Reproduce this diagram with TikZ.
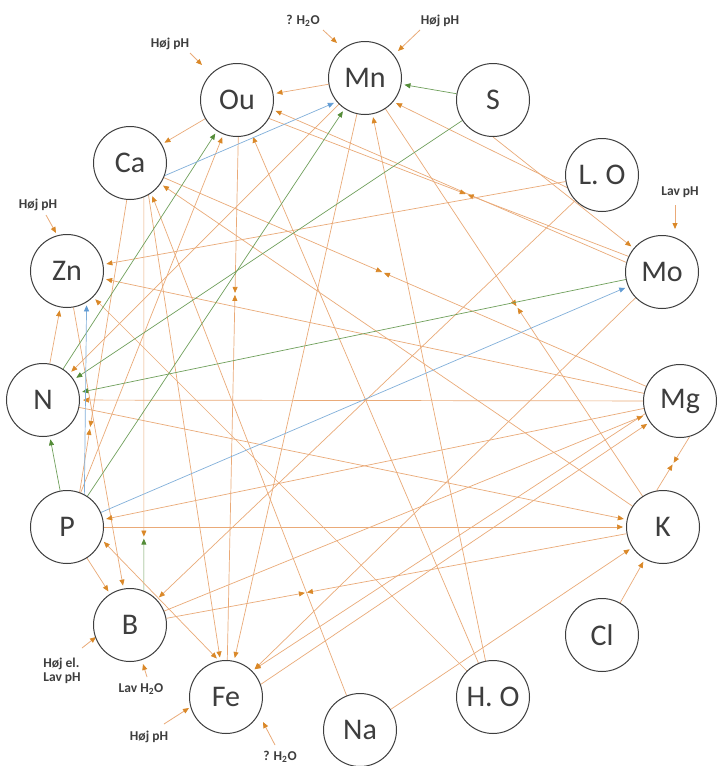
\documentclass[tikz,border=0pt]{standalone}
\usepackage{fontspec}
\setmainfont{Carlito}
\usetikzlibrary{arrows.meta,calc,backgrounds}
\definecolor{orL}{RGB}{234,170,120}
\definecolor{orD}{RGB}{218,136,40}
\definecolor{grL}{RGB}{112,160,92}
\definecolor{grD}{RGB}{84,140,56}
\definecolor{blL}{RGB}{128,175,218}
\definecolor{blD}{RGB}{96,155,212}
\definecolor{ink}{RGB}{62,62,62}
\begin{document}
\begin{tikzpicture}[x=1pt,y=-1pt,
  el/.style={circle,draw=ink,line width=1pt,fill=white,minimum size=73pt,inner sep=0pt,text=ink,font=\fontsize{30}{32}\selectfont},
  lab/.style={font=\bfseries\fontsize{13.5}{15}\selectfont,text=ink,inner sep=1pt},
  oe/.style={draw=orL,line width=0.7pt,-{Triangle[length=6pt,width=5pt,color=orD]},shorten >=3pt},
  ge/.style={draw=grL,line width=0.7pt,-{Triangle[length=6pt,width=5pt,color=grD]},shorten >=3pt},
  be/.style={draw=blL,line width=0.7pt,-{Triangle[length=6pt,width=5pt,color=blD]},shorten >=3pt},
  om/.style={draw=orL,line width=0.7pt,-{Triangle[length=6pt,width=5pt,color=orD]},shorten >=1pt},
  gm/.style={draw=grL,line width=0.7pt,-{Triangle[length=6pt,width=5pt,color=grD]},shorten >=1pt},
  ob/.style={draw=orL,line width=0.7pt,{Triangle[length=6pt,width=5pt,color=orD]}-{Triangle[length=6pt,width=5pt,color=orD]},shorten >=3pt,shorten <=3pt},
  la/.style={draw=orL,line width=0.8pt,-{Triangle[length=6pt,width=5pt,color=orD]}}
]
\useasboundingbox (0,0) rectangle (717,766);

% elements
\node[el] (Mn) at (365,78) {Mn};
\node[el] (Ou) at (237,100) {Ou};
\node[el] (S)  at (493,100) {S};
\node[el] (Ca) at (130,163) {Ca};
\node[el] (LO) at (602,175) {L. O};
\node[el] (Zn) at (67,271) {Zn};
\node[el] (Mo) at (662,272) {Mo};
\node[el] (N)  at (43,400) {N};
\node[el] (Mg) at (680,401) {Mg};
\node[el] (P)  at (67,527) {P};
\node[el] (K)  at (663,527) {K};
\node[el] (B)  at (130,625) {B};
\node[el] (Cl) at (602,635) {Cl};
\node[el] (Fe) at (226,697) {Fe};
\node[el] (HO) at (493,697) {H. O};
\node[el] (Na) at (360,730) {Na};

% condition labels
\node[lab] (lq1) at (303,21) {? H\textsubscript{2}O};
\node[lab] (lh1) at (440,21) {Høj pH};
\node[lab] (lh2) at (170,44) {Høj pH};
\node[lab] (lh3) at (38,205) {Høj pH};
\node[lab] (llv) at (680,192) {Lav pH};
\node[lab,align=left] (lhe) at (62,671) {Høj el.\\[-1pt]Lav pH};
\node[lab] (llh) at (141,689) {Lav H\textsubscript{2}O};
\node[lab] (lh4) at (149,737) {Høj pH};
\node[lab] (lq2) at (280,757) {? H\textsubscript{2}O};

\coordinate (a1s) at (323,30); \coordinate (a1e) at (337,43);
\coordinate (a2s) at (420,30); \coordinate (a2e) at (398,51);
\coordinate (a3s) at (190,53); \coordinate (a3e) at (202,65);
\coordinate (a4s) at (46,215); \coordinate (a4e) at (56,233);
\coordinate (a5s) at (675,205); \coordinate (a5e) at (675,229);
\coordinate (a6s) at (82,648); \coordinate (a6e) at (96,637);
\coordinate (a7s) at (147,677); \coordinate (a7e) at (143,664);
\coordinate (a8s) at (164,724); \coordinate (a8e) at (189,708);
\coordinate (a9s) at (275,745); \coordinate (a9e) at (263,722);

\begin{pgfonlayer}{background}
\fill[white] (0,0) rectangle (717,766);
\draw[la] (a1s) -- (a1e);
\draw[la] (a2s) -- (a2e);
\draw[la] (a3s) -- (a3e);
\draw[la] (a4s) -- (a4e);
\draw[la] (a5s) -- (a5e);
\draw[la] (a6s) -- (a6e);
\draw[la] (a7s) -- (a7e);
\draw[la] (a8s) -- (a8e);
\draw[la] (a9s) -- (a9e);

% orange relations
\draw[oe] (Mn) -- (Ou);
\draw[oe] (HO) -- (Mn);
\draw[oe] (LO.200) -- (Mn.-40);
\draw[oe] (Ou) -- (Ca);
\draw[oe] (HO) -- (Ou);
\draw[oe] (P) -- (Ou);
\draw[oe] (Mo.165) -- (Ou.-15);
\coordinate (pOM) at ($(Ou.-30)!0.55!(Mo.155)$);
\draw[om] (Ou.-30) -- (pOM); \draw[om] (Mo.155) -- (pOM);
\coordinate (pOF) at ($(Ou.-88)!0.30!(Fe.88)$);
\draw[om] (Ou.-88) -- (pOF); \draw[om] (Fe.88) -- (pOF);
\draw[oe] (Mn) -- (Fe);
\coordinate (pMK) at ($(Mn)!0.51!(K)$);
\draw[om] (Mn) -- (pMK); \draw[om] (K) -- (pMK);
\draw[oe] (S.-90) -- (Mo.140);
\coordinate (pCM) at ($(Ca)!0.46!(Mg)$);
\draw[om] (Ca) -- (pCM); \draw[om] (Mg) -- (pCM);
\draw[oe] (K) -- (Ca);
\draw[oe] (LO) -- (Zn);
\draw[oe] (Mg) -- (Zn);
\draw[oe] (HO) -- (Zn);
\coordinate (pCP) at ($(Ca.-95)!0.78!(P.70)$);
\draw[om] (Ca.-95) -- (pCP); \draw[om] (P.70) -- (pCP);
\coordinate (pCB) at ($(Ca.-68)!0.865!(B.68)$);
\draw[om] (Ca.-68) -- (pCB); \draw[gm] (B.68) -- (pCB);
\draw[oe] (Na) -- (Ca.-55);
\draw[oe] (Na) -- (K);
\draw[oe] (Cl) -- (K);
\coordinate (pMgK) at ($(Mg.-75)!0.5!(K.100)$);
\draw[om] (Mg.-75) -- (pMgK); \draw[om] (K.100) -- (pMgK);
\coordinate (pBK) at ($(B)!0.33!(K)$);
\draw[om] (B) -- (pBK); \draw[om] (K) -- (pBK);
\draw[ob] (P.-20) -- (Fe.101);
\draw[oe] (Ca.-60) -- (Fe);
\draw[oe] (Mo) -- (Fe);
\draw[oe] (Mg.200) -- (Fe.45);
\draw[oe] (Fe.20) -- (Mg.215);
\draw[oe] (N) -- (Zn);
\draw[oe] (P) -- (B);
\draw[oe] (Zn) -- (B);
\draw[oe] (LO) -- (B);
\draw[oe] (Mg) -- (P);
\draw[oe] (P) -- (K);
\draw[oe] (Mg) -- (N);
\draw[oe] (N) -- (K);
\draw[oe] (B) -- (Mg);
\draw[oe] (Mn) -- (N);

% green relations
\draw[ge] (S) -- (Mn);
\draw[ge] (P) -- (Mn);
\draw[ge] (N) -- (Ou);
\draw[ge] (S) -- (N);
\draw[ge] (Mo) -- (N);
\draw[ge] (P) -- (N);

% blue relations
\draw[be] (Ca.-20) -- (Mn.220);
\draw[be] (P.62) -- (Zn.-58);
\draw[be] (P) -- (Mo);
\end{pgfonlayer}
\end{tikzpicture}
\end{document}
